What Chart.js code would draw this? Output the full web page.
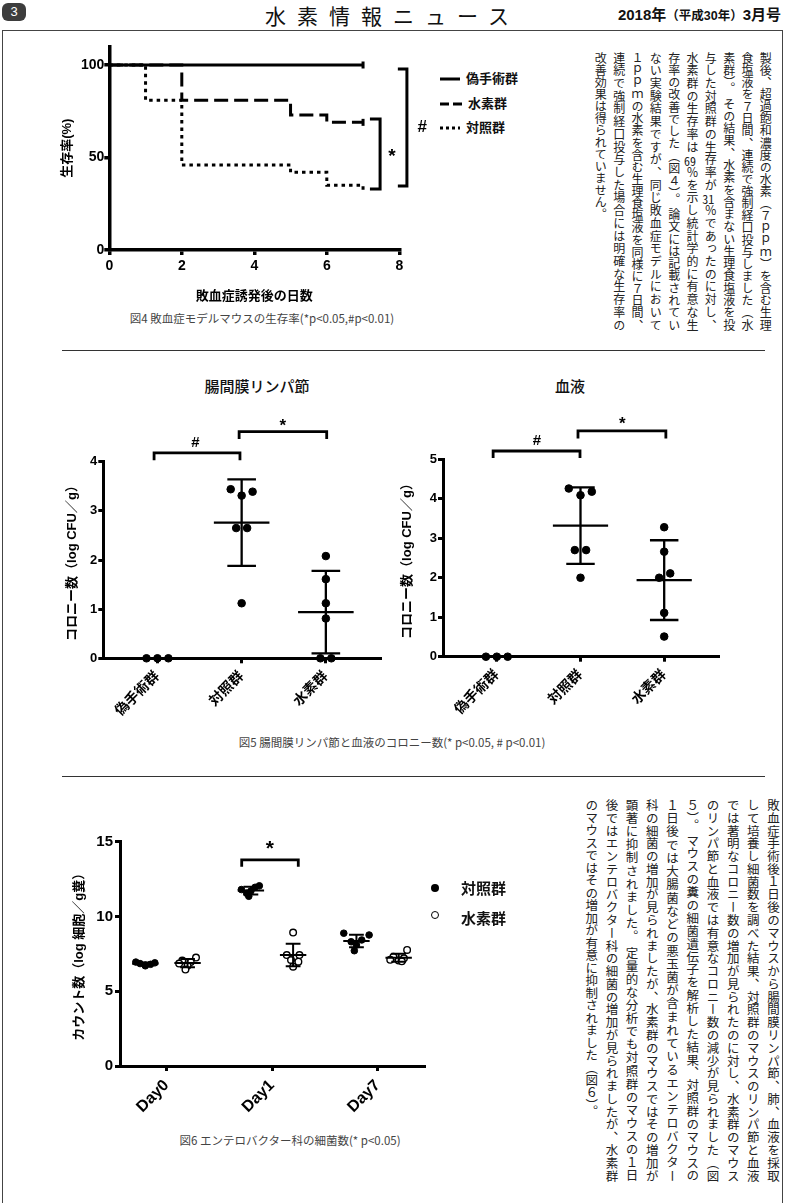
<!DOCTYPE html>
<html lang="ja">
<head>
<meta charset="utf-8">
<title>水素情報ニュース 2018年3月号 3ページ</title>
<script src="https://cdn.jsdelivr.net/npm/chart.js@4.4.1/dist/chart.umd.min.js"></script>
<style>
  html, body { margin: 0; padding: 0; background: #fff; }
  body { width: 785px; height: 1203px; position: relative; overflow: hidden;
         font-family: 'Noto Sans CJK JP', sans-serif; color: #111; }
  .abs { position: absolute; }
  canvas { display: block; }
  #frame { position: absolute; left: 2px; right: 2px; top: 30px; bottom: -10px;
           border: 1.5px solid #444; }
  #badge { left: 2px; top: 3px; width: 24px; height: 18px; border-radius: 6px;
           background: #3d3d3d; color: #fff; font: 13px 'Liberation Sans', sans-serif;
           text-align: center; line-height: 18px; }
  #title { left: 0; width: 785px; top: 2px; text-align: center; font-size: 21px;
           letter-spacing: 11px; line-height: 26px; }
  #issue { right: 4px; top: 5px; font: bold 15px 'Liberation Sans', 'Noto Sans CJK JP', sans-serif;
           line-height: 20px; }
  #issue small { font-size: 12.5px; }
  .sep { position: absolute; height: 0; border-top: 1px solid #333; }
  .cap { position: absolute; font-size: 11.5px; color: #444; white-space: nowrap;
         transform: translateX(-50%); line-height: 14px; }
  .ctitle { position: absolute; font-size: 15px; white-space: nowrap; transform: translateX(-50%);
            line-height: 18px; font-weight: 500; }
  .lg { position: absolute; font-size: 13px; font-weight: bold; white-space: nowrap; line-height: 16px; }
  .lg svg { vertical-align: middle; margin-right: 6px; }
  .dot { position: absolute; width: 8px; height: 8px; border-radius: 50%; box-sizing: border-box; }
  .vt { position: absolute; writing-mode: vertical-rl; color: #222; }
  .vt div { text-align: justify; text-align-last: justify; }
  .vt div.last { text-align-last: start; }
  .tcy { text-combine-upright: all; }
</style>
</head>
<body>
<div id="frame"></div>
<div id="badge" class="abs">3</div>
<div id="title" class="abs">水素情報ニュース</div>
<div id="issue" class="abs">2018年<small>（平成30年）</small>3月号</div>

<!-- 図4 -->
<div class="abs" style="left:40px; top:30px;"><canvas id="fig4" width="400" height="280"></canvas></div>
<div class="lg" style="left:440px; top:70px;"><svg width="20" height="6"><line x1="0" y1="3" x2="20" y2="3" stroke="#000" stroke-width="3"/></svg>偽手術群</div>
<div class="lg" style="left:440px; top:95px;"><svg width="22" height="6"><line x1="0" y1="3" x2="22" y2="3" stroke="#000" stroke-width="3" stroke-dasharray="9 4"/></svg>水素群</div>
<div class="lg" style="left:440px; top:119px;"><svg width="20" height="6"><line x1="0" y1="3" x2="20" y2="3" stroke="#000" stroke-width="3" stroke-dasharray="3 3"/></svg>対照群</div>
<div class="cap" style="left:262px; top:311px;">図4 敗血症モデルマウスの生存率(*p&lt;0.05,#p&lt;0.01)</div>

<div class="vt" style="left:591px; top:52px; height:279px; font-size:12px; line-height:18.33px;">
  <div>製後、超過飽和濃度の水素（７ｐｐｍ）を含む生理</div>
  <div>食塩液を７日間、連続で強制経口投与しました（水</div>
  <div>素群）。 その結果、水素を含まない生理食塩液を投</div>
  <div>与した対照群の生存率が<span class="tcy">31</span>％であったのに対し、</div>
  <div>水素群の生存率は<span class="tcy">69</span>％を示し統計学的に有意な生</div>
  <div>存率の改善でした（図４）。 論文には記載されてい</div>
  <div>ない実験結果ですが、同じ敗血症モデルにおいて</div>
  <div>１ｐｐｍの水素を含む生理食塩液を同様に７日間、</div>
  <div>連続で強制経口投与した場合には明確な生存率の</div>
  <div class="last">改善効果は得られていません。</div>
</div>

<div class="sep" style="left:62px; width:703px; top:350px;"></div>

<!-- 図5 -->
<div class="ctitle" style="left:257px; top:377px;">腸間膜リンパ節</div>
<div class="ctitle" style="left:570px; top:377px;">血液</div>
<div class="abs" style="left:30px; top:400px;"><canvas id="fig5a" width="360" height="330"></canvas></div>
<div class="abs" style="left:370px; top:400px;"><canvas id="fig5b" width="360" height="330"></canvas></div>
<div class="cap" style="left:392px; top:735px;">図5 腸間膜リンパ節と血液のコロニー数(* p&lt;0.05, # p&lt;0.01)</div>

<div class="sep" style="left:62px; width:703px; top:776px;"></div>

<!-- 図6 -->
<div class="abs" style="left:40px; top:800px;"><canvas id="fig6" width="400" height="320"></canvas></div>
<div class="dot" style="left:431px; top:884px; background:#000;"></div>
<div class="lg" style="left:461px; top:879px; font-size:15px; line-height:18px;">対照群</div>
<div class="dot" style="left:431px; top:911px; border:1.5px solid #000; background:#fff;"></div>
<div class="lg" style="left:461px; top:909px; font-size:15px; line-height:18px;">水素群</div>
<div class="cap" style="left:290px; top:1133px;">図6 エンテロバクター科の細菌数(* p&lt;0.05)</div>

<div class="vt" style="left:581px; top:799px; height:383px; font-size:12.5px; line-height:20.2px;">
  <div>敗血症手術後１日後のマウスから腸間膜リンパ節、肺、血液を採取</div>
  <div>して培養し細菌数を調べた結果、対照群のマウスのリンパ節と血液</div>
  <div>では著明なコロニー数の増加が見られたのに対し、水素群のマウス</div>
  <div>のリンパ節と血液では有意なコロニー数の減少が見られました（図</div>
  <div>５）。 マウスの糞の細菌遺伝子を解析した結果、対照群のマウスの</div>
  <div>１日後では大腸菌などの悪玉菌が含まれているエンテロバクター</div>
  <div>科の細菌の増加が見られましたが、水素群のマウスではその増加が</div>
  <div>顕著に抑制されました。 定量的な分析でも対照群のマウスの１日</div>
  <div>後ではエンテロバクター科の細菌の増加が見られましたが、水素群</div>
  <div class="last">のマウスではその増加が有意に抑制されました（図６）。</div>
</div>

<script>
// ---- 図4 生存率 (Kaplan-Meier) ----
const f4Groups = ['偽手術群', '水素群', '対照群'];
const f4DayTicks = [0, 2, 4, 6, 8];
const f4SurvTicks = [0, 50, 100];
const f4ShamDays = [0, 7];
const f4ShamSurv = [100, 100];
const f4H2Days = [0, 2, 5, 6, 7];
const f4H2Surv = [100, 81, 73, 69, 69];
const f4CtrlDays = [0, 1, 2, 5, 6, 7];
const f4CtrlSurv = [100, 81, 46, 42, 35, 31];

// ---- 図5 コロニー数 ----
const f5Groups = ['偽手術群', '対照群', '水素群'];
const f5LymphTicks = [0, 1, 2, 3, 4];
const f5LymphSham = [0, 0, 0];
const f5LymphCtrl = [3.44, 3.31, 3.39, 2.65, 2.65, 1.12];
const f5LymphH2 = [2.08, 1.61, 1.12, 0.81, 0, 0];
const f5LymphMean = [null, 2.76, 0.94];
const f5LymphSD = [null, 0.88, 0.84];
const f5BloodTicks = [0, 1, 2, 3, 4, 5];
const f5BloodSham = [0, 0, 0];
const f5BloodCtrl = [4.26, 4.09, 4.18, 2.70, 2.70, 2.00];
const f5BloodH2 = [3.28, 2.66, 2.00, 2.11, 1.11, 0.51];
const f5BloodMean = [null, 3.32, 1.94];
const f5BloodSD = [null, 0.97, 1.01];

// ---- 図6 エンテロバクター科 ----
const f6Days = ['Day0', 'Day1', 'Day7'];
const f6Ticks = [0, 5, 10, 15];
const f6CtrlD0 = [6.95, 6.90, 6.85, 6.80, 6.75, 6.70];
const f6CtrlD1 = [12.05, 11.95, 11.80, 11.70, 11.55, 11.35];
const f6CtrlD7 = [8.88, 8.76, 8.43, 8.31, 8.09, 7.71];
const f6H2D0 = [7.25, 7.05, 6.95, 6.85, 6.70, 6.45];
const f6H2D1 = [8.92, 7.42, 7.42, 7.09, 6.98, 6.64];
const f6H2D7 = [7.76, 7.30, 7.20, 7.10, 7.05, 7.00];
const f6CtrlMean = [6.83, 11.73, 8.36];
const f6CtrlSD = [0.09, 0.26, 0.42];
const f6H2Mean = [6.88, 7.42, 7.24];
const f6H2SD = [0.28, 0.75, 0.27];

// 横ずらし(ドットが重ならないように)
const jit3 = [-0.13, 0, 0.13];
const f5LymphCtrlJit = [-0.13, 0, 0.13, -0.065, 0.065, 0];
const f5LymphH2Jit = [0, 0, 0, 0, -0.065, 0.065];
const f5BloodCtrlJit = [-0.14, 0, 0.135, -0.068, 0.067, 0];
const f5BloodH2Jit = [0, 0, -0.06, 0.072, 0, 0];
const f6CtrlJit = [[-0.09, 0.09, -0.05, 0.05, 0, 0], [0.08, 0.04, -0.09, 0, -0.04, -0.02], [-0.12, 0.12, 0.05, -0.05, 0, -0.02]];
const f6H2Jit = [[0.08, -0.05, 0.03, -0.08, 0, -0.02], [0, -0.06, 0.06, -0.02, 0.05, 0], [0.08, -0.05, 0.05, -0.08, 0, 0.03]];

Chart.defaults.font.family = "'Liberation Sans', 'Noto Sans CJK JP', sans-serif";
Chart.defaults.font.weight = 'bold';
Chart.defaults.color = '#000';
Chart.defaults.animation = false;
Chart.defaults.plugins.legend.display = false;
Chart.defaults.plugins.tooltip.enabled = false;

// 有意差記号 (* / #) をスケール座標で描く
Chart.register({
  id: 'sigText',
  afterDatasetsDraw(chart, args, opts) {
    const { ctx, scales: { x, y } } = chart;
    (opts.items || []).forEach(it => {
      ctx.save();
      ctx.font = 'bold ' + (it.size || 16) + "px 'Liberation Sans', sans-serif";
      ctx.fillStyle = '#000';
      ctx.textAlign = 'center';
      ctx.textBaseline = 'middle';
      ctx.fillText(it.t, x.getPixelForValue(it.x), y.getPixelForValue(it.y));
      ctx.restore();
    });
  }
});

function xy(xs, ys) { return xs.map((v, i) => ({ x: v, y: ys[i] })); }
function pts(vals, cx, jit) { return vals.map((v, i) => ({ x: cx + jit[i], y: v })); }

function meanSd(centers, means, sds, hw, cw) {
  const d = [];
  centers.forEach((c, i) => {
    const m = means[i], s = sds[i];
    if (m == null) return;
    d.push({ x: c - hw, y: m }, { x: c + hw, y: m }, { x: c, y: null });
    d.push({ x: c, y: m - s }, { x: c, y: m + s }, { x: c, y: null });
    d.push({ x: c - cw, y: m + s }, { x: c + cw, y: m + s }, { x: c, y: null });
    d.push({ x: c - cw, y: m - s }, { x: c + cw, y: m - s }, { x: c, y: null });
  });
  return d;
}

// 横向きブラケット(下向きの爪)
function bracketH(list) {
  const d = [];
  list.forEach(b => d.push({ x: b.x1, y: b.drop }, { x: b.x1, y: b.y }, { x: b.x2, y: b.y }, { x: b.x2, y: b.drop }, { x: b.x2, y: null }));
  return d;
}
// 縦向きブラケット(左向きの爪)
function bracketV(list) {
  const d = [];
  list.forEach(b => d.push({ x: b.xt, y: b.y1 }, { x: b.x, y: b.y1 }, { x: b.x, y: b.y2 }, { x: b.xt, y: b.y2 }, { x: b.x, y: null }));
  return d;
}

function makeAxis(o) {
  return {
    type: 'linear', min: o.min, max: o.max,
    afterBuildTicks: s => { s.ticks = o.ticks.map(v => ({ value: v })); },
    afterFit: s => { if (o.w) s.width = o.w; if (o.h) s.height = o.h; },
    border: { display: true, color: '#000', width: o.lw },
    grid: { drawOnChartArea: false, color: '#000', lineWidth: o.lw, tickLength: 5 },
    ticks: {
      color: '#000', autoSkip: false, padding: o.pad,
      font: { size: o.fs, weight: 'bold' },
      minRotation: o.rot || 0, maxRotation: o.rot || 0,
      callback: o.labels ? ((v, i) => o.labels[i]) : (v => v)
    },
    title: o.title
      ? { display: true, text: o.title, color: '#000', font: { size: 13, weight: 'bold' }, padding: o.titlePad }
      : { display: false }
  };
}

const lineBase = { type: 'line', borderColor: '#000', pointRadius: 0, fill: false, clip: false };

// ---- 図4 ----
const f4Censor = n => Array.from({ length: n }, (_, i) => (i === n - 1 ? 3.5 : 0));
new Chart(document.getElementById('fig4'), {
  type: 'line',
  data: {
    datasets: [
      Object.assign({}, lineBase, { label: f4Groups[0], data: xy(f4ShamDays, f4ShamSurv), stepped: true, borderWidth: 3,
        pointRadius: f4Censor(f4ShamDays.length), pointStyle: 'line', rotation: 90, pointBorderWidth: 3, pointBorderColor: '#000' }),
      Object.assign({}, lineBase, { label: f4Groups[1], data: xy(f4H2Days, f4H2Surv), stepped: true, borderWidth: 3, borderDash: [14, 6],
        pointRadius: f4Censor(f4H2Days.length), pointStyle: 'line', rotation: 90, pointBorderWidth: 3, pointBorderColor: '#000' }),
      Object.assign({}, lineBase, { label: f4Groups[2], data: xy(f4CtrlDays, f4CtrlSurv), stepped: true, borderWidth: 3, borderDash: [3.5, 4] }),
      Object.assign({}, lineBase, { label: 'brackets', borderWidth: 3,
        data: bracketV([{ x: 7.47, xt: 7.19, y1: 70.8, y2: 33.0 }, { x: 8.21, xt: 7.96, y1: 97.8, y2: 34.6 }]) })
    ]
  },
  options: {
    responsive: false,
    layout: { padding: { left: 0, right: 40.7, top: 16.5, bottom: 0 } },
    scales: {
      x: makeAxis({ min: 0, max: 8, ticks: f4DayTicks, fs: 14, pad: 3, lw: 3.5, h: 60,
        title: '敗血症誘発後の日数', titlePad: { top: 0, bottom: 5.5 } }),
      y: makeAxis({ min: 0, max: 110, ticks: f4SurvTicks, fs: 14, pad: 0, lw: 3.5, w: 69.3,
        title: '生存率(%)', titlePad: { top: 20, bottom: 0 } })
    },
    plugins: { sigText: { items: [{ t: '*', x: 7.8, y: 50.3, size: 19 }, { t: '#', x: 8.63, y: 66.5, size: 17 }] } }
  }
});

// ---- 図5 ----
function fig5(id, o) {
  new Chart(document.getElementById(id), {
    type: 'scatter',
    data: {
      datasets: [
        { label: f5Groups[0], data: pts(o.sham, 0, jit3), backgroundColor: '#000', borderColor: '#000', pointRadius: 3.8, clip: false },
        { label: f5Groups[1], data: pts(o.ctrl, 1, o.ctrlJit), backgroundColor: '#000', borderColor: '#000', pointRadius: 3.8, clip: false },
        { label: f5Groups[2], data: pts(o.h2, 2, o.h2Jit), backgroundColor: '#000', borderColor: '#000', pointRadius: 3.8, clip: false },
        Object.assign({}, lineBase, { label: 'mean±SD', borderWidth: 2.3, data: meanSd([0, 1, 2], o.mean, o.sd, 0.33, 0.17) }),
        Object.assign({}, lineBase, { label: 'brackets', borderWidth: 2.8, data: bracketH(o.brackets) })
      ]
    },
    options: {
      responsive: false,
      layout: { padding: { left: 0, right: o.padR, top: o.padT, bottom: 0 } },
      scales: {
        x: makeAxis({ min: -0.643, max: 2.643, ticks: [0, 1, 2], labels: f5Groups, fs: 14, pad: 5, lw: 3, h: o.h, rot: 45 }),
        y: makeAxis({ min: 0, max: o.max, ticks: o.ticks, fs: 13, pad: 1, lw: 3, w: o.w,
          title: 'コロニー数（log CFU／g）', titlePad: { top: o.titleTop, bottom: 0 } })
      },
      plugins: { sigText: { items: o.sig } }
    }
  });
}

fig5('fig5a', {
  sham: f5LymphSham, ctrl: f5LymphCtrl, h2: f5LymphH2, ctrlJit: f5LymphCtrlJit, h2Jit: f5LymphH2Jit,
  mean: f5LymphMean, sd: f5LymphSD, max: 4, ticks: f5LymphTicks,
  padR: 10, padT: 61.7, h: 71.7, w: 73.3, titleTop: 35,
  brackets: [{ x1: -0.04, x2: 0.98, y: 4.18, drop: 4.03 }, { x1: 0.97, x2: 2.01, y: 4.61, drop: 4.46 }],
  sig: [{ t: '#', x: 0.45, y: 4.38, size: 15 }, { t: '*', x: 1.49, y: 4.73, size: 17 }]
});
fig5('fig5b', {
  sham: f5BloodSham, ctrl: f5BloodCtrl, h2: f5BloodH2, ctrlJit: f5BloodCtrlJit, h2Jit: f5BloodH2Jit,
  mean: f5BloodMean, sd: f5BloodSD, max: 5, ticks: f5BloodTicks,
  padR: 12, padT: 59.3, h: 73.3, w: 73, titleTop: 30,
  brackets: [{ x1: -0.044, x2: 0.994, y: 5.21, drop: 5.03 }, { x1: 0.97, x2: 2.02, y: 5.72, drop: 5.53 }],
  sig: [{ t: '#', x: 0.48, y: 5.47, size: 15 }, { t: '*', x: 1.5, y: 5.89, size: 17 }]
});

// ---- 図6 ----
const f6Ctrl = [f6CtrlD0, f6CtrlD1, f6CtrlD7];
const f6H2 = [f6H2D0, f6H2D1, f6H2D7];
const f6Off = 0.2;
new Chart(document.getElementById('fig6'), {
  type: 'scatter',
  data: {
    datasets: [
      Object.assign({}, lineBase, { label: 'mean±SD 対照群', borderWidth: 2,
        data: meanSd([0 - f6Off, 1 - f6Off, 2 - f6Off], f6CtrlMean, f6CtrlSD, 0.125, 0.07) }),
      Object.assign({}, lineBase, { label: 'mean±SD 水素群', borderWidth: 2,
        data: meanSd([0 + f6Off, 1 + f6Off, 2 + f6Off], f6H2Mean, f6H2SD, 0.125, 0.07) }),
      { label: '対照群', data: f6Ctrl.flatMap((vals, d) => pts(vals, d - f6Off, f6CtrlJit[d])),
        backgroundColor: '#000', borderColor: '#000', pointRadius: 3.3 },
      { label: '水素群', data: f6H2.flatMap((vals, d) => pts(vals, d + f6Off, f6H2Jit[d])),
        backgroundColor: '#fff', borderColor: '#000', borderWidth: 1.4, pointRadius: 3.3 },
      Object.assign({}, lineBase, { label: 'brackets', borderWidth: 2.8,
        data: bracketH([{ x1: 0.713, x2: 1.249, y: 13.78, drop: 13.33 }]) })
    ]
  },
  options: {
    responsive: false,
    layout: { padding: { left: 0, right: 16, top: 41.7, bottom: 0 } },
    scales: {
      x: makeAxis({ min: -0.44, max: 2.44, ticks: [0, 1, 2], labels: f6Days, fs: 16, pad: 5, lw: 3, h: 54, rot: 45 }),
      y: makeAxis({ min: 0, max: 15, ticks: f6Ticks, fs: 15, pad: 2, lw: 3, w: 80,
        title: 'カウント数（log 細胞／g糞）', titlePad: { top: 32, bottom: 0 } })
    },
    plugins: { sigText: { items: [{ t: '*', x: 0.98, y: 14.5, size: 21 }] } }
  }
});
</script>
</body>
</html>
